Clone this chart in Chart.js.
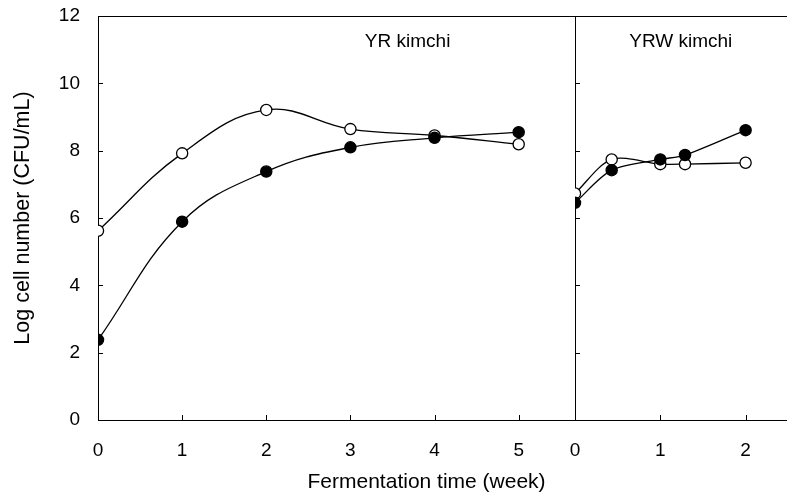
<!DOCTYPE html>
<html>
<head>
<meta charset="utf-8">
<script src="https://cdn.jsdelivr.net/npm/chart.js@4"></script>
<style>
  html, body { margin: 0; padding: 0; background: #fff; overflow: hidden; }
  #wrapLeft { position: absolute; left: 0; top: 0; width: 762px; height: 496px; }
  #wrapRight { position: absolute; left: 565px; top: 0; width: 231px; height: 496px; }
</style>
</head>
<body>
<div id="wrapLeft"><canvas id="left"></canvas></div>
<div id="wrapRight"><canvas id="right"></canvas></div>
<script>
// YR kimchi, weeks 0-5
const weeksYR = [0, 1, 2, 3, 4, 5];
const yrFilled = [2.38, 5.89, 7.38, 8.10, 8.38, 8.55];
const yrOpen = [5.62, 7.92, 9.21, 8.64, 8.45, 8.19];

// YRW kimchi, weeks 0-2
const weeksYRW = [0, 0.43, 1, 1.29, 2];
const yrwFilled = [6.45, 7.42, 7.74, 7.87, 8.61];
const yrwOpen = [6.73, 7.74, 7.60, 7.60, 7.64];

const yTicks = [0, 2, 4, 6, 8, 10, 12];
const ticksYRW = [0, 1, 2];

const FONT = "'Liberation Sans', Arial, sans-serif";
Chart.defaults.font.family = FONT;
Chart.defaults.color = "#000";

function toPoints(xs, ys) {
  return xs.map((x, i) => ({ x: x, y: ys[i] }));
}

function series(label, xs, ys, filled, tension) {
  return {
    label: label,
    data: toPoints(xs, ys),
    borderColor: "#000",
    borderWidth: 1.3,
    backgroundColor: filled ? "#000" : "#fff",
    pointBackgroundColor: filled ? "#000" : "#fff",
    pointBorderColor: "#000",
    pointBorderWidth: 1.3,
    pointRadius: 5.6,
    tension: tension,
    fill: false,
  };
}

// panel label drawn at a data position
const panelLabel = {
  id: "panelLabel",
  afterDraw(chart, args, opts) {
    const { ctx, scales } = chart;
    ctx.save();
    ctx.font = "19px " + FONT;
    ctx.fillStyle = "#000";
    ctx.textAlign = "center";
    ctx.textBaseline = "middle";
    ctx.fillText(opts.text, scales.x.getPixelForValue(opts.x), scales.y.getPixelForValue(opts.y));
    ctx.restore();
  },
};

// short tick marks pointing into the plot
const innerTicks = {
  id: "innerTicks",
  afterDraw(chart) {
    const { ctx, scales, chartArea } = chart;
    const len = 5;
    ctx.save();
    ctx.strokeStyle = "#000";
    ctx.lineWidth = 1;
    ctx.beginPath();
    scales.x.ticks.forEach((t) => {
      const px = Math.round(scales.x.getPixelForValue(t.value)) + 0.5;
      ctx.moveTo(px, chartArea.bottom);
      ctx.lineTo(px, chartArea.bottom - len);
    });
    scales.y.ticks.forEach((t) => {
      const py = Math.round(scales.y.getPixelForValue(t.value)) + 0.5;
      ctx.moveTo(chartArea.left, py);
      ctx.lineTo(chartArea.left + len, py);
    });
    ctx.stroke();
    ctx.restore();
  },
};

function axisTicks(values) {
  return (axis) => { axis.ticks = values.map((v) => ({ value: v })); };
}

const frame = { color: "#000", width: 1 };

function gridFor(labelGap) {
  return { drawOnChartArea: false, tickLength: labelGap, tickColor: "rgba(0,0,0,0)" };
}

new Chart(document.getElementById("left"), {
  type: "line",
  data: {
    datasets: [
      series("YR filled", weeksYR, yrFilled, true, 0.4),
      series("YR open", weeksYR, yrOpen, false, 0.4),
    ],
  },
  options: {
    responsive: true,
    maintainAspectRatio: false,
    animation: false,
    layout: { padding: 0 },
    plugins: {
      legend: { display: false },
      tooltip: { enabled: false },
      panelLabel: { text: "YR kimchi", x: 3.68, y: 11.24 },
    },
    scales: {
      x: {
        type: "linear",
        min: 0,
        max: 7.81,
        afterBuildTicks: axisTicks(weeksYR),
        afterFit: (s) => { s.height = 76; },
        grid: gridFor(19),
        border: frame,
        ticks: { font: { size: 19 }, padding: 0, maxRotation: 0 },
        title: {
          display: true,
          text: "Fermentation time (week)",
          font: { size: 21 },
          padding: { top: 0, bottom: 1 },
        },
      },
      xTop: {
        type: "linear",
        position: "top",
        min: 0,
        max: 7.81,
        afterFit: (s) => { s.height = 16; },
        grid: { display: false },
        ticks: { display: false },
        border: frame,
      },
      y: {
        min: 0,
        max: 12,
        afterBuildTicks: axisTicks(yTicks),
        afterFit: (s) => { s.width = 98; },
        grid: gridFor(18),
        border: frame,
        ticks: { font: { size: 19 }, padding: 0 },
        title: {
          display: true,
          text: "Log cell number (CFU/mL)",
          font: { size: 21.5 },
          padding: { top: 10, bottom: 0 },
        },
      },
    },
  },
  plugins: [panelLabel, innerTicks],
});

new Chart(document.getElementById("right"), {
  type: "line",
  data: {
    datasets: [
      series("YRW filled", weeksYRW, yrwFilled, true, 0.3),
      series("YRW open", weeksYRW, yrwOpen, false, 0.3),
    ],
  },
  options: {
    responsive: true,
    maintainAspectRatio: false,
    animation: false,
    layout: { padding: 0 },
    plugins: {
      legend: { display: false },
      tooltip: { enabled: false },
      panelLabel: { text: "YRW kimchi", x: 1.24, y: 11.24 },
    },
    scales: {
      x: {
        type: "linear",
        min: 0,
        max: 2.51,
        afterBuildTicks: axisTicks(ticksYRW),
        afterFit: (s) => { s.height = 76; },
        grid: gridFor(19),
        border: frame,
        ticks: { font: { size: 19 }, padding: 0, maxRotation: 0 },
      },
      xTop: {
        type: "linear",
        position: "top",
        min: 0,
        max: 2.51,
        afterFit: (s) => { s.height = 16; },
        grid: { display: false },
        ticks: { display: false },
        border: frame,
      },
      y: {
        min: 0,
        max: 12,
        afterBuildTicks: axisTicks(yTicks),
        afterFit: (s) => { s.width = 10; },
        grid: gridFor(0),
        border: frame,
        ticks: { display: false, padding: 0 },
      },
    },
  },
  plugins: [panelLabel, innerTicks],
});
</script>
</body>
</html>
